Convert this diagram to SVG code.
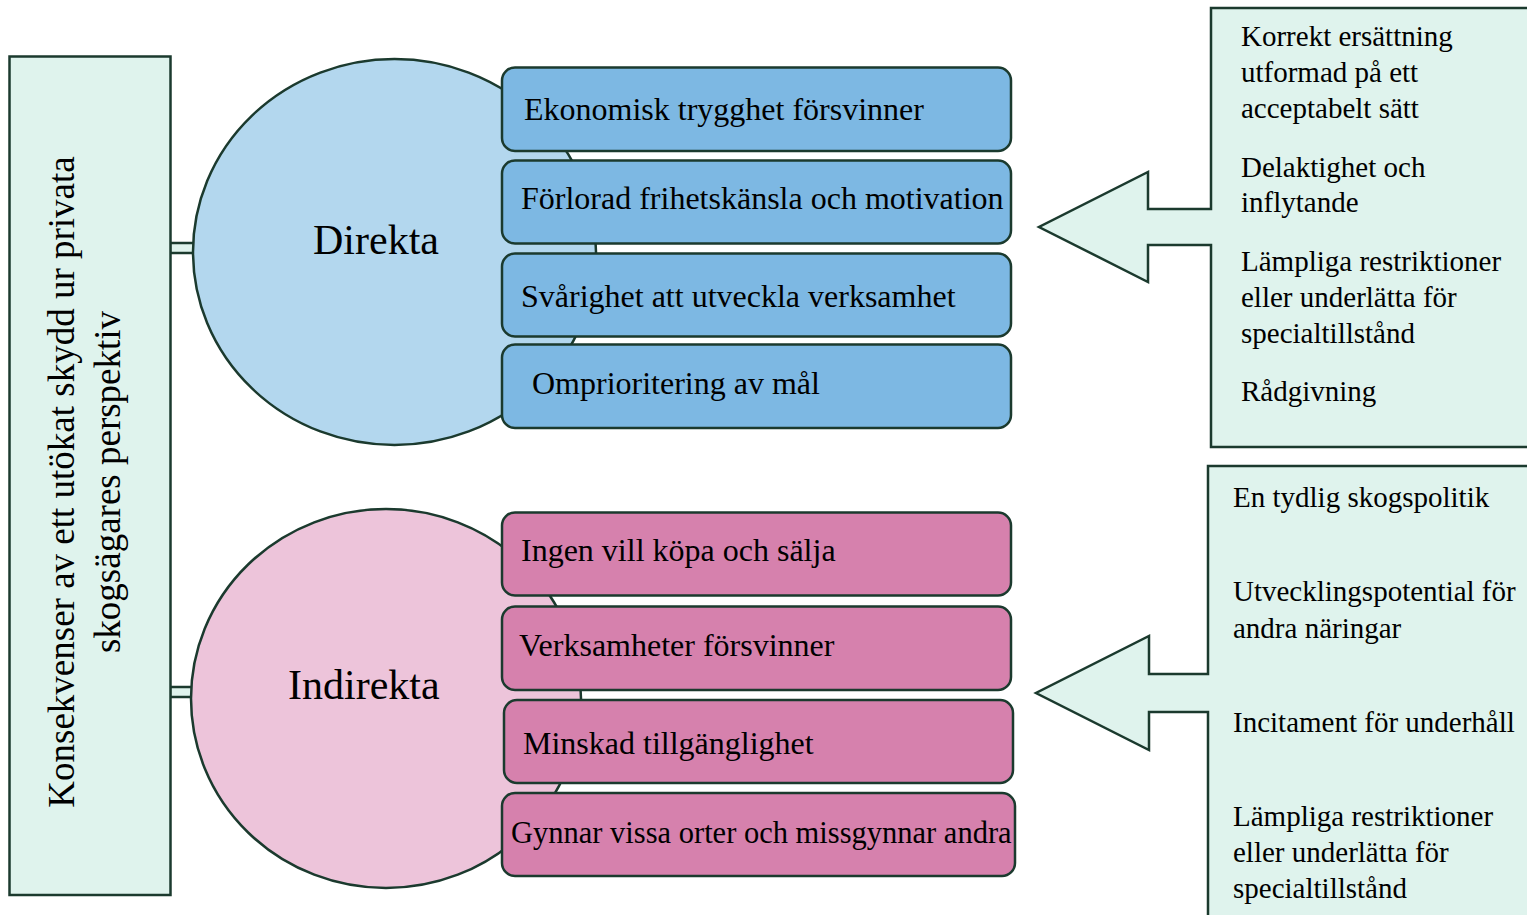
<svg xmlns="http://www.w3.org/2000/svg" width="1527" height="915" viewBox="0 0 1527 915">
<style>
text{font-family:"Liberation Serif","Times New Roman",serif;fill:#000}
.mint{fill:#dff3ed;stroke:#1b3a2e;stroke-width:2.5}
.bcirc{fill:#b3d7ee;stroke:#1b3a2e;stroke-width:2.5}
.pcirc{fill:#edc4da;stroke:#1b3a2e;stroke-width:2.5}
.brect{fill:#7db8e3;stroke:#1b3a2e;stroke-width:2.5}
.prect{fill:#d681ad;stroke:#1b3a2e;stroke-width:2.5}
.item{font-size:32px}
.big{font-size:42px}
.side{font-size:29px}
.vert{font-size:37px;text-anchor:middle}
</style>
<rect width="1527" height="915" fill="#ffffff"/>

<g id="connectors">
<rect class="mint" x="170" y="243" width="24" height="10"/>
<rect class="mint" x="170" y="687" width="22" height="10"/>
</g>

<g id="main">
<rect class="mint" x="9.5" y="56.5" width="161" height="838.5"/>
<text class="vert" transform="translate(74,482) rotate(-90)">Konsekvenser av ett utökat skydd ur privata</text>
<text class="vert" transform="translate(120,482) rotate(-90)">skogsägares perspektiv</text>
</g>

<g id="direkta">
<ellipse class="bcirc" cx="394.5" cy="252" rx="201.5" ry="193"/>
<text class="big" x="313" y="254">Direkta</text>
</g>

<g id="indirekta">
<ellipse class="pcirc" cx="386" cy="698.5" rx="195" ry="189.5"/>
<text class="big" x="288" y="699">Indirekta</text>
</g>

<g id="d1"><rect class="brect" x="502" y="67.5" width="509" height="83.5" rx="13"/><text class="item" x="524" y="120">Ekonomisk trygghet försvinner</text></g>
<g id="d2"><rect class="brect" x="502" y="160.5" width="509" height="83" rx="13"/><text class="item" x="521" y="209">Förlorad frihetskänsla och motivation</text></g>
<g id="d3"><rect class="brect" x="502" y="253.5" width="509" height="83" rx="13"/><text class="item" x="521" y="307">Svårighet att utveckla verksamhet</text></g>
<g id="d4"><rect class="brect" x="502" y="344.5" width="509" height="83.5" rx="13"/><text class="item" x="532" y="394">Omprioritering av mål</text></g>

<g id="i1"><rect class="prect" x="502" y="512.5" width="509" height="83" rx="13"/><text class="item" x="521" y="561">Ingen vill köpa och sälja</text></g>
<g id="i2"><rect class="prect" x="502" y="606.5" width="509" height="83.5" rx="13"/><text class="item" x="519" y="656">Verksamheter försvinner</text></g>
<g id="i3"><rect class="prect" x="504" y="700" width="509" height="83" rx="13"/><text class="item" x="523" y="754">Minskad tillgänglighet</text></g>
<g id="i4"><rect class="prect" x="502" y="793" width="513" height="83" rx="13"/><text class="item" x="511" y="843" style="font-size:30.5px">Gynnar vissa orter och missgynnar andra</text></g>

<g id="callout-top">
<path class="mint" d="M1211,8 H1540 V447 H1211 V245 H1148 V282 L1039,227 L1148,172 V209 H1211 Z"/>
<text class="side" x="1241" y="46">Korrekt ersättning</text>
<text class="side" x="1241" y="82">utformad på ett</text>
<text class="side" x="1241" y="118">acceptabelt sätt</text>
<text class="side" x="1241" y="177">Delaktighet och</text>
<text class="side" x="1241" y="212">inflytande</text>
<text class="side" x="1241" y="271">Lämpliga restriktioner</text>
<text class="side" x="1241" y="307">eller underlätta för</text>
<text class="side" x="1241" y="343">specialtillstånd</text>
<text class="side" x="1241" y="401">Rådgivning</text>
</g>

<g id="callout-bottom">
<path class="mint" d="M1208,466 H1540 V935 H1208 V712 H1149 V750 L1036,693 L1149,636 V674 H1208 Z"/>
<text class="side" x="1233" y="507">En tydlig skogspolitik</text>
<text class="side" x="1233" y="601">Utvecklingspotential för</text>
<text class="side" x="1233" y="638">andra näringar</text>
<text class="side" x="1233" y="732">Incitament för underhåll</text>
<text class="side" x="1233" y="826">Lämpliga restriktioner</text>
<text class="side" x="1233" y="862">eller underlätta för</text>
<text class="side" x="1233" y="898">specialtillstånd</text>
</g>
</svg>
